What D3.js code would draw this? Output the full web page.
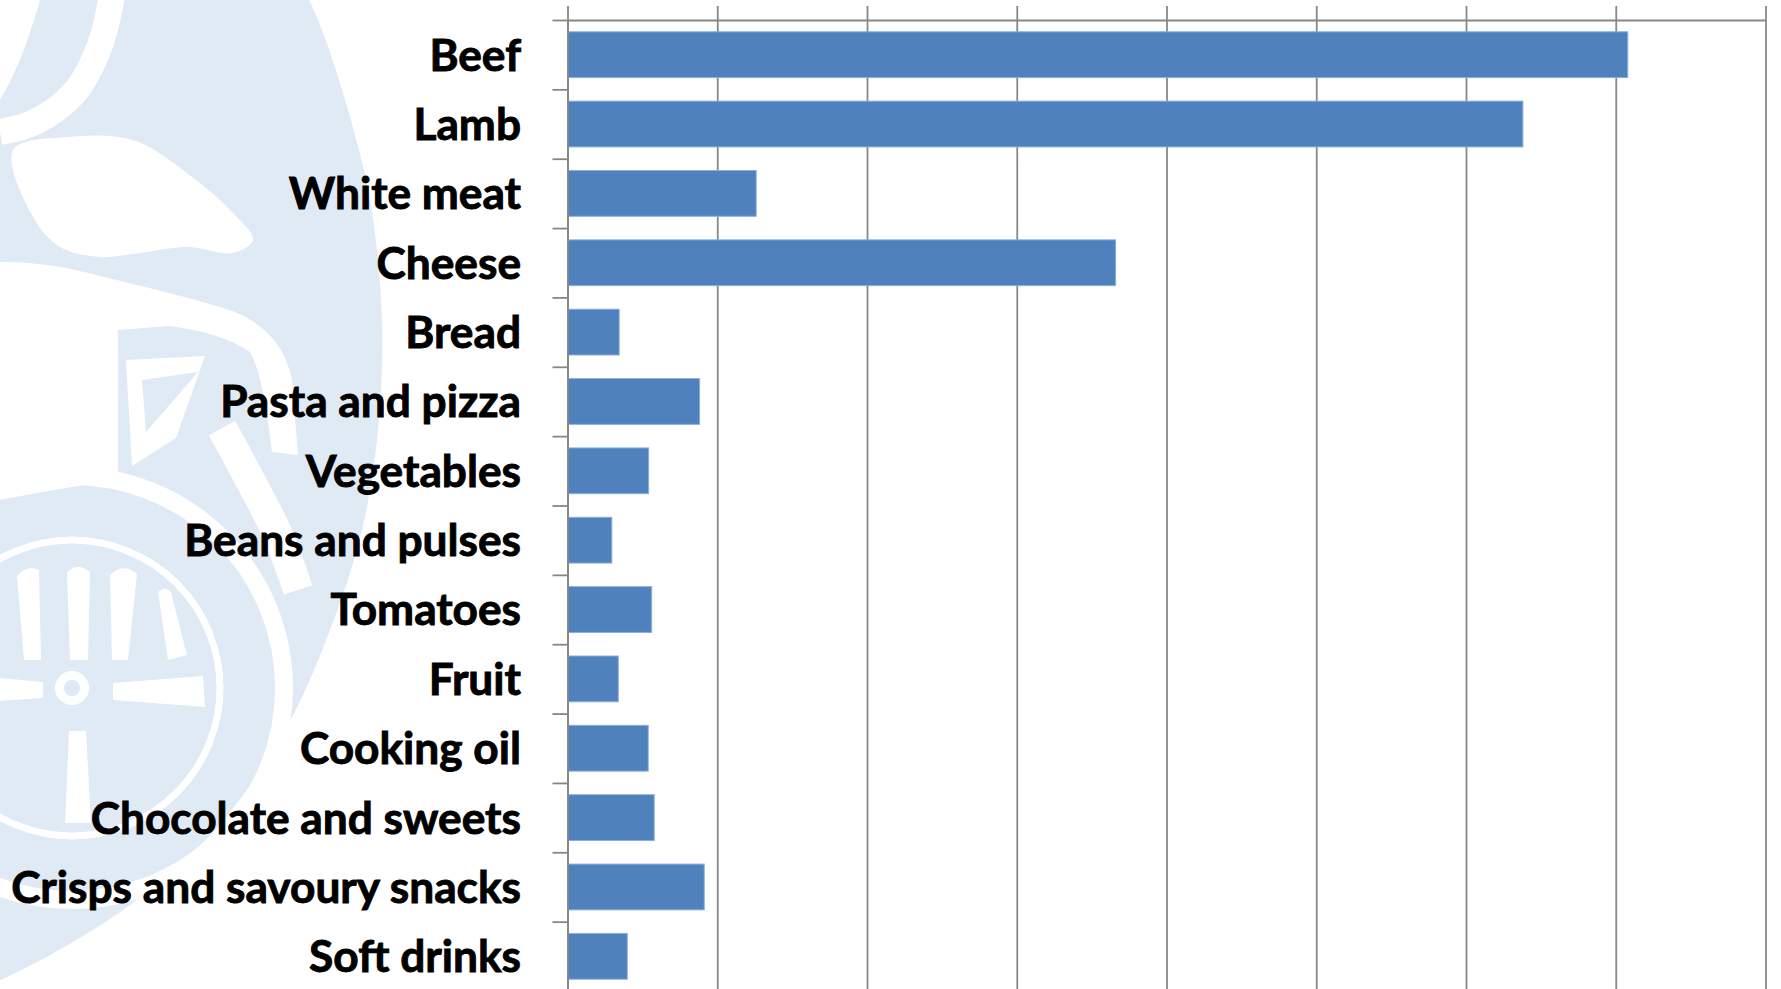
<!DOCTYPE html>
<html>
<head>
<meta charset="utf-8">
<script src="https://cdn.jsdelivr.net/npm/d3@7/dist/d3.min.js"></script>
<style>
  html, body { margin: 0; padding: 0; background: #ffffff; }
  svg { display: block; }
</style>
</head>
<body>
<svg id="chart" width="1781" height="989"></svg>
<script>
// ---- data ----
const categories = [
  "Beef", "Lamb", "White meat", "Cheese", "Bread", "Pasta and pizza",
  "Vegetables", "Beans and pulses", "Tomatoes", "Fruit", "Cooking oil",
  "Chocolate and sweets", "Crisps and savoury snacks", "Soft drinks"
];
const values = [7.08, 6.38, 1.26, 3.66, 0.345, 0.882, 0.542, 0.296, 0.562, 0.339, 0.539, 0.579, 0.913, 0.399];
const xTicks = [0, 1, 2, 3, 4, 5, 6, 7, 8];

// ---- layout ----
const plotLeft = 567.5, plotRight = 1765.5, plotTop = 20, plotBottom = 991;
const svg = d3.select("#chart");

// ---- watermark (decorative logo in the background) ----
const wm = svg.append("g").attr("class", "watermark");
const lightBlue = "#dfeaf4";
const white = "#ffffff";
const closed = d3.line().curve(d3.curveCatmullRomClosed.alpha(0.5));
const open = d3.line().curve(d3.curveCatmullRom.alpha(0.5));

// main oval
wm.append("path")
  .attr("d", open([
    [290, -40], [318, 20], [345, 100], [370, 200], [382, 320], [378, 430], [362, 530],
    [330, 630], [285, 730], [215, 830], [130, 905], [50, 955], [-20, 990], [-40, 1000]
  ]) + "L-40,-40Z")
  .attr("fill", lightBlue);

// top-left strokes
wm.append("path").attr("d", "M0,0 L40,0 C30,35 18,70 0,100 Z").attr("fill", white);
wm.append("path").attr("d", open([[112, -5], [100, 45], [75, 92], [35, 122], [0, 132]]))
  .attr("fill", "none").attr("stroke", white).attr("stroke-width", 26);
// head blob
wm.append("path").attr("d", closed([
  [13, 150], [67, 137], [133, 140], [187, 173], [233, 213], [253, 240], [233, 253],
  [187, 247], [140, 253], [100, 257], [60, 247], [33, 217]
])).attr("fill", white);
// torso (large white area) merging with the S band
wm.append("path").attr("d",
  "M0,262 C40,262 70,268 100,276 C150,288 200,300 235,312 C265,325 285,345 292,380 " +
  "L298,455 L272,452 C268,420 262,372 250,352 C230,338 200,330 170,326 " +
  "L118,330 L118,480 C80,485 40,492 0,500 Z")
  .attr("fill", white);
// trapezoid with a light-blue triangle inside
wm.append("path").attr("d", "M126,360 L205,356 L176,438 L132,466 Z").attr("fill", white);
wm.append("path").attr("d", "M142,380 L198,372 L146,432 Z").attr("fill", lightBlue);
// diagonal band towards the wheel
wm.append("path").attr("d", open([[222, 428], [250, 480], [278, 535], [298, 590]]))
  .attr("fill", "none").attr("stroke", white).attr("stroke-width", 30);

// wheel: outer white band and inner thin ring
wm.append("circle").attr("cx", 72).attr("cy", 688).attr("r", 212)
  .attr("fill", "none").attr("stroke", white).attr("stroke-width", 18);
wm.append("circle").attr("cx", 72).attr("cy", 688).attr("r", 148)
  .attr("fill", "none").attr("stroke", white).attr("stroke-width", 7);
// hub
wm.append("circle").attr("cx", 72).attr("cy", 688).attr("r", 12.5)
  .attr("fill", "none").attr("stroke", white).attr("stroke-width", 9);
// spokes
const spokes = [
  "M0,678 L43,682 L43,698 L0,701 Z",
  "M113,683 L203,676 L205,707 L113,700 Z",
  "M69,731 L86,731 L91,823 L65,823 Z",
  "M17,576 Q27,564 39,570 L41,660 L24,660 Z",
  "M67,572 Q78,562 90,572 L88,660 L70,660 Z",
  "M110,575 Q124,562 137,574 L128,660 L112,660 Z",
  "M158,592 Q165,585 171,592 L187,655 L168,660 Z"
];
spokes.forEach(d => wm.append("path").attr("d", d).attr("fill", white));

// ---- scales ----
const x = d3.scaleLinear().domain([xTicks[0], xTicks[xTicks.length - 1]]).range([plotLeft, plotRight]);
const y = d3.scaleBand().domain(categories).range([plotTop, plotBottom])
  .paddingInner(0.34).paddingOuter(0.17);
const yEdge = d3.scaleLinear().domain([0, categories.length]).range([plotTop, plotBottom]);

const gridColor = "#878787";

// gridlines (vertical)
svg.append("g")
  .attr("transform", `translate(0,${plotTop})`)
  .call(d3.axisTop(x).tickValues(xTicks).tickSize(-(plotBottom - plotTop)).tickFormat(""))
  .call(g => g.select(".domain").remove())
  .call(g => g.selectAll(".tick line").attr("stroke", gridColor).attr("stroke-width", 1.8));

// bars
svg.append("g").selectAll("rect").data(categories).join("rect")
  .attr("x", x(0))
  .attr("y", d => y(d))
  .attr("width", (d, i) => x(values[i]) - x(0))
  .attr("height", y.bandwidth())
  .attr("fill", "#4f81bd")
  .attr("stroke", "#8aaedb")
  .attr("stroke-width", 1);

// top axis (ticks pointing up)
svg.append("g")
  .attr("transform", `translate(0,${plotTop})`)
  .call(d3.axisTop(x).tickValues(xTicks).tickSize(14).tickSizeOuter(0).tickFormat(""))
  .call(g => g.selectAll(".domain, .tick line").attr("stroke", gridColor).attr("stroke-width", 1.8));

// left axis (ticks at category boundaries)
svg.append("g")
  .attr("transform", `translate(${plotLeft},0)`)
  .call(d3.axisLeft(yEdge).tickValues(d3.range(categories.length + 1)).tickSize(15).tickSizeOuter(0).tickFormat(""))
  .call(g => g.selectAll(".domain, .tick line").attr("stroke", gridColor).attr("stroke-width", 1.8));

// category labels
const labels = svg.append("g").selectAll("text").data(categories).join("text")
  .attr("x", 521)
  .attr("y", d => y(d) + y.bandwidth() / 2)
  .attr("dy", "0.36em")
  .attr("text-anchor", "end")
  .attr("font-family", "Lato, 'Open Sans', sans-serif")
  .attr("font-weight", 700)
  .attr("font-size", 40)
  .attr("fill", "#000")
  .attr("stroke", "#000")
  .attr("stroke-width", 0.9)
  .text(d => d);

// fit label font to the reference width of the longest label
const longest = labels.filter(d => d === "Crisps and savoury snacks").node();
const wNow = longest.getComputedTextLength();
labels.attr("font-size", 40 * 510 / wNow);
</script>
</body>
</html>
